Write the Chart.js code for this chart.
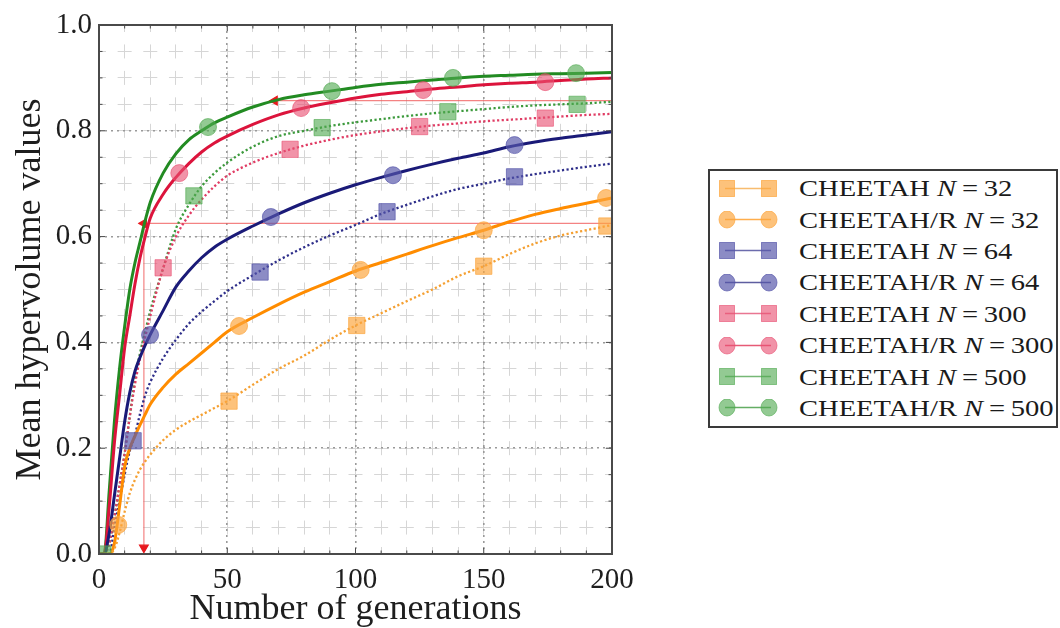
<!DOCTYPE html>
<html>
<head>
<meta charset="utf-8">
<script src="https://cdn.jsdelivr.net/npm/chart.js@4.4.1/dist/chart.umd.min.js"></script>
<style>
  html, body { margin: 0; padding: 0; background: #ffffff; }
  #wrap { position: relative; width: 1060px; height: 628px; }
  #chart { position: absolute; left: 0; top: 0; }
  #legend {
    position: absolute; left: 708px; top: 169px; width: 350px; height: 259px;
    box-sizing: border-box; border: 2px solid #3a3a3a; background: #fff;
    font-family: "Liberation Serif", "Times New Roman", serif; font-size: 24px; color: #1a1a1a;
    padding-top: 2px;
  }
  .row { height: 31.4px; display: flex; align-items: center; white-space: nowrap; }
  .row svg { margin-left: 7px; margin-right: 20px; flex: none; }
  .row span { display: inline-block; transform: scaleX(1.19); transform-origin: left center; }
  .row i { font-style: italic; }
</style>
</head>
<body>
<div id="wrap">
  <canvas id="chart" width="1060" height="628"></canvas>
  <div id="legend"></div>
</div>
<script>
// ---------------- data ----------------
const generations = [0, 2, 4, 6, 8, 10, 12, 14, 16, 18, 20, 25, 30, 35, 40, 45, 50, 60, 70, 80, 90, 100, 110, 120, 130, 140, 150, 160, 170, 180, 190, 200];

const cheetahN32   = [0, 0, 0, 0.01, 0.04, 0.08, 0.115, 0.14, 0.16, 0.175, 0.188, 0.215, 0.235, 0.25, 0.263, 0.276, 0.289, 0.32, 0.35, 0.375, 0.405, 0.432, 0.455, 0.478, 0.50, 0.525, 0.544, 0.567, 0.587, 0.602, 0.612, 0.622];
const cheetahRN32  = [0, 0, 0, 0.02, 0.09, 0.165, 0.20, 0.223, 0.244, 0.264, 0.283, 0.315, 0.34, 0.36, 0.38, 0.40, 0.42, 0.447, 0.472, 0.495, 0.515, 0.535, 0.551, 0.567, 0.583, 0.598, 0.612, 0.628, 0.642, 0.653, 0.663, 0.673];
const cheetahN64   = [0, 0, 0, 0.05, 0.10, 0.15, 0.195, 0.225, 0.265, 0.30, 0.325, 0.37, 0.405, 0.435, 0.458, 0.478, 0.497, 0.527, 0.555, 0.58, 0.602, 0.622, 0.643, 0.66, 0.676, 0.69, 0.70, 0.71, 0.718, 0.725, 0.732, 0.738];
const cheetahRN64  = [0, 0, 0.04, 0.11, 0.18, 0.25, 0.305, 0.345, 0.372, 0.395, 0.415, 0.46, 0.505, 0.535, 0.56, 0.58, 0.595, 0.62, 0.643, 0.664, 0.682, 0.698, 0.712, 0.725, 0.737, 0.748, 0.758, 0.770, 0.779, 0.786, 0.792, 0.798];
const cheetahN300  = [0, 0, 0.02, 0.07, 0.13, 0.19, 0.26, 0.32, 0.37, 0.41, 0.45, 0.54, 0.60, 0.64, 0.67, 0.695, 0.715, 0.74, 0.758, 0.772, 0.783, 0.792, 0.799, 0.805, 0.810, 0.814, 0.818, 0.821, 0.824, 0.827, 0.830, 0.832];
const cheetahRN300 = [0, 0, 0.09, 0.21, 0.30, 0.39, 0.45, 0.51, 0.56, 0.60, 0.635, 0.68, 0.712, 0.738, 0.76, 0.777, 0.79, 0.812, 0.83, 0.843, 0.853, 0.862, 0.869, 0.874, 0.879, 0.883, 0.887, 0.890, 0.892, 0.895, 0.898, 0.900];
const cheetahN500  = [0, 0, 0.02, 0.07, 0.13, 0.19, 0.26, 0.33, 0.38, 0.42, 0.46, 0.54, 0.615, 0.66, 0.695, 0.72, 0.74, 0.77, 0.79, 0.80, 0.809, 0.816, 0.822, 0.828, 0.833, 0.837, 0.841, 0.845, 0.848, 0.850, 0.852, 0.855];
const cheetahRN500 = [0, 0, 0.12, 0.25, 0.35, 0.43, 0.50, 0.55, 0.59, 0.63, 0.665, 0.72, 0.757, 0.783, 0.80, 0.815, 0.826, 0.845, 0.859, 0.868, 0.875, 0.882, 0.888, 0.892, 0.896, 0.900, 0.903, 0.905, 0.907, 0.908, 0.909, 0.910];

// marker positions [generation, value]
const marksN32   = [[50.7, 0.289], [100.5, 0.432], [150, 0.544], [198, 0.62]];
const marksRN32  = [[7.5, 0.055], [54.6, 0.431], [102, 0.537], [150, 0.612], [197.7, 0.673]];
const marksN64   = [[13.3, 0.214], [62.8, 0.533], [112.3, 0.647], [162, 0.713]];
const marksRN64  = [[19.9, 0.414], [67, 0.637], [114.6, 0.716], [162, 0.773]];
const marksN300  = [[25, 0.541], [74.5, 0.765], [125, 0.808], [174, 0.824]];
const marksRN300 = [[31.3, 0.720], [78.8, 0.843], [126.4, 0.877], [174, 0.892]];
const marksN500  = [[1.5, 0.0], [37, 0.677], [87, 0.806], [136, 0.836], [186.4, 0.850]];
const marksRN500 = [[42.5, 0.807], [90.8, 0.875], [138, 0.900], [186, 0.909]];

const seriesNames = ['CHEETAH', 'CHEETAH/R', 'CHEETAH', 'CHEETAH/R', 'CHEETAH', 'CHEETAH/R', 'CHEETAH', 'CHEETAH/R'];
const seriesN     = [32, 32, 64, 64, 300, 300, 500, 500];

// reference arrows (final value of CHEETAH reached by CHEETAH/R)
const arrowLowX  = [200, 17.5, 17.5];
const arrowLowY  = [0.625, 0.625, 0.012];
const arrowHighX = [200, 68.5];
const arrowHighY = [0.857, 0.857];

const xTickMin = 0, xTickMax = 200, xTickStep = 50;
const yTickMin = 0, yTickMax = 1, yTickStep = 0.2;

// ---------------- styles ----------------
const seriesValues = [cheetahN32, cheetahRN32, cheetahN64, cheetahRN64, cheetahN300, cheetahRN300, cheetahN500, cheetahRN500];
const seriesMarks  = [marksN32, marksRN32, marksN64, marksRN64, marksN300, marksRN300, marksN500, marksRN500];
const lineColors   = ['#f5a032', '#ff8c00', '#2e2e8a', '#1a1a78', '#e03c64', '#dc143c', '#3c9a3c', '#228b22'];
const markFill     = ['rgba(252,165,60,0.68)', 'rgba(252,165,60,0.68)', 'rgba(85,85,170,0.68)', 'rgba(85,85,170,0.68)',
                      'rgba(232,80,115,0.62)', 'rgba(232,80,115,0.62)', 'rgba(80,170,80,0.62)', 'rgba(80,170,80,0.62)'];
const serif = '"Liberation Serif", "Times New Roman", serif';

const datasets = [];
seriesValues.forEach((vals, i) => {
  const dotted = i % 2 === 0;
  datasets.push({
    label: seriesNames[i] + ' N=' + seriesN[i],
    data: generations.map((g, k) => ({ x: g, y: vals[k] })),
    borderColor: lineColors[i],
    borderWidth: dotted ? 2.3 : 3,
    borderDash: dotted ? [2.2, 2.4] : [],
    pointRadius: 0,
    fill: false,
    cubicInterpolationMode: 'monotone',
    order: 3
  });
});
seriesMarks.forEach((m, i) => {
  const square = i % 2 === 0;
  datasets.push({
    label: 'marks ' + i,
    data: m.map(p => ({ x: p[0], y: p[1] })),
    showLine: false,
    pointStyle: square ? 'rect' : 'circle',
    pointRadius: square ? 11.5 : 8.5,
    backgroundColor: markFill[i],
    borderColor: markFill[i],
    borderWidth: 1,
    order: 1
  });
});
datasets.push({
  label: 'arrow low',
  data: arrowLowX.map((x, k) => ({ x: x, y: arrowLowY[k] })),
  borderColor: 'rgba(240,90,90,0.75)',
  borderWidth: 1.2,
  pointStyle: 'triangle',
  pointRadius: [0, 5, 5],
  pointRotation: [0, 270, 180],
  backgroundColor: '#e8191e',
  pointBorderColor: '#e8191e',
  tension: 0,
  order: 4
});
datasets.push({
  label: 'arrow high',
  data: arrowHighX.map((x, k) => ({ x: x, y: arrowHighY[k] })),
  borderColor: 'rgba(240,90,90,0.75)',
  borderWidth: 1.2,
  pointStyle: 'triangle',
  pointRadius: [0, 5],
  pointRotation: [0, 270],
  backgroundColor: '#e8191e',
  pointBorderColor: '#e8191e',
  tension: 0,
  order: 4
});

// plot frame (all four sides)
const framePlugin = {
  id: 'frame',
  afterDatasetsDraw(chart) {
    const a = chart.chartArea, ctx = chart.ctx;
    ctx.save();
    ctx.strokeStyle = '#4a4a4a';
    ctx.lineWidth = 2;
    ctx.strokeRect(a.left, a.top, a.right - a.left, a.bottom - a.top);
    const xs = chart.scales.x, ys = chart.scales.y;
    ctx.lineWidth = 1;
    for (let v = xTickMin; v <= xTickMax; v += 10) {
      const px = xs.getPixelForValue(v);
      const len = v % xTickStep === 0 ? 6 : 3.5;
      ctx.beginPath(); ctx.moveTo(px, a.bottom); ctx.lineTo(px, a.bottom - len);
      ctx.moveTo(px, a.top); ctx.lineTo(px, a.top + len); ctx.stroke();
    }
    for (let v = 0; v <= 20; v++) {
      const py = ys.getPixelForValue(v * 0.05);
      const len = v % 4 === 0 ? 6 : 3.5;
      ctx.beginPath(); ctx.moveTo(a.left, py); ctx.lineTo(a.left + len, py);
      ctx.moveTo(a.right, py); ctx.lineTo(a.right - len, py); ctx.stroke();
    }
    ctx.restore();
  }
};

new Chart(document.getElementById('chart'), {
  type: 'line',
  data: { datasets },
  options: {
    responsive: false,
    animation: false,
    layout: { padding: { top: 25, right: 448, left: 0, bottom: 0 } },
    plugins: { legend: { display: false }, tooltip: { enabled: false } },
    scales: {
      xMinor: {
        type: 'linear', position: 'bottom', min: xTickMin, max: xTickMax, z: -2,
        ticks: { display: false, stepSize: 10 },
        grid: { color: '#d6d6d6', lineWidth: 1, drawTicks: false, tickLength: 0 },
        border: { display: false, dash: [14, 12.45], dashOffset: 7 },
        afterFit: s => { s.height = 0; }
      },
      yMinor: {
        type: 'linear', position: 'left', min: yTickMin, max: yTickMax, z: -2,
        ticks: { display: false, stepSize: 0.05 },
        grid: { color: '#d6d6d6', lineWidth: 1, drawTicks: false, tickLength: 0 },
        border: { display: false, dash: [14, 11.65], dashOffset: 7 },
        afterFit: s => { s.width = 0; }
      },
      x: {
        type: 'linear', position: 'bottom', min: xTickMin, max: xTickMax,
        ticks: { stepSize: xTickStep, color: '#1e1e1e', padding: 9, font: { family: serif, size: 29 }, maxRotation: 0 },
        grid: { color: '#9a9a9a', lineWidth: 1.6, drawTicks: false, tickLength: 0 },
        border: { display: false, dash: [2, 4] },
        title: { display: true, text: 'Number of generations', color: '#1e1e1e',
                 font: { family: serif, size: 36 }, padding: { top: 0, bottom: -3 } },
        afterFit: s => { s.height = 74; }
      },
      y: {
        type: 'linear', position: 'left', min: yTickMin, max: yTickMax,
        ticks: { stepSize: yTickStep, color: '#1e1e1e', padding: 7, font: { family: serif, size: 29 },
                 callback: v => Number(v).toFixed(1) },
        grid: { color: '#9a9a9a', lineWidth: 1.6, drawTicks: false, tickLength: 0 },
        border: { display: false, dash: [2, 4] },
        title: { display: true, text: 'Mean hypervolume values', color: '#1e1e1e',
                 font: { family: serif, size: 36 }, padding: { top: 9, bottom: 0 } },
        afterFit: s => { s.width = 99; }
      }
    }
  },
  plugins: [framePlugin]
});

// ---------------- legend ----------------
const legend = document.getElementById('legend');
seriesNames.forEach((name, i) => {
  const square = i % 2 === 0;
  const f = markFill[i];
  const mk = cx => square
    ? `<rect x="${cx - 7.5}" y="0.5" width="15" height="16" fill="${f}" stroke="${f}"/>`
    : `<ellipse cx="${cx}" cy="8.5" rx="8" ry="8.5" fill="${f}" stroke="${f}"/>`;
  const svg = `<svg width="62" height="18" viewBox="0 0 62 18">
      <line x1="8" y1="8.5" x2="54" y2="8.5" stroke="${lineColors[i]}" stroke-opacity="0.7" stroke-width="1.4"/>
      ${mk(10)}${mk(52)}</svg>`;
  const row = document.createElement('div');
  row.className = 'row';
  row.innerHTML = svg + `<span>${name} <i>N</i>\u2009=\u2009${seriesN[i]}</span>`;
  legend.appendChild(row);
});
</script>
</body>
</html>
